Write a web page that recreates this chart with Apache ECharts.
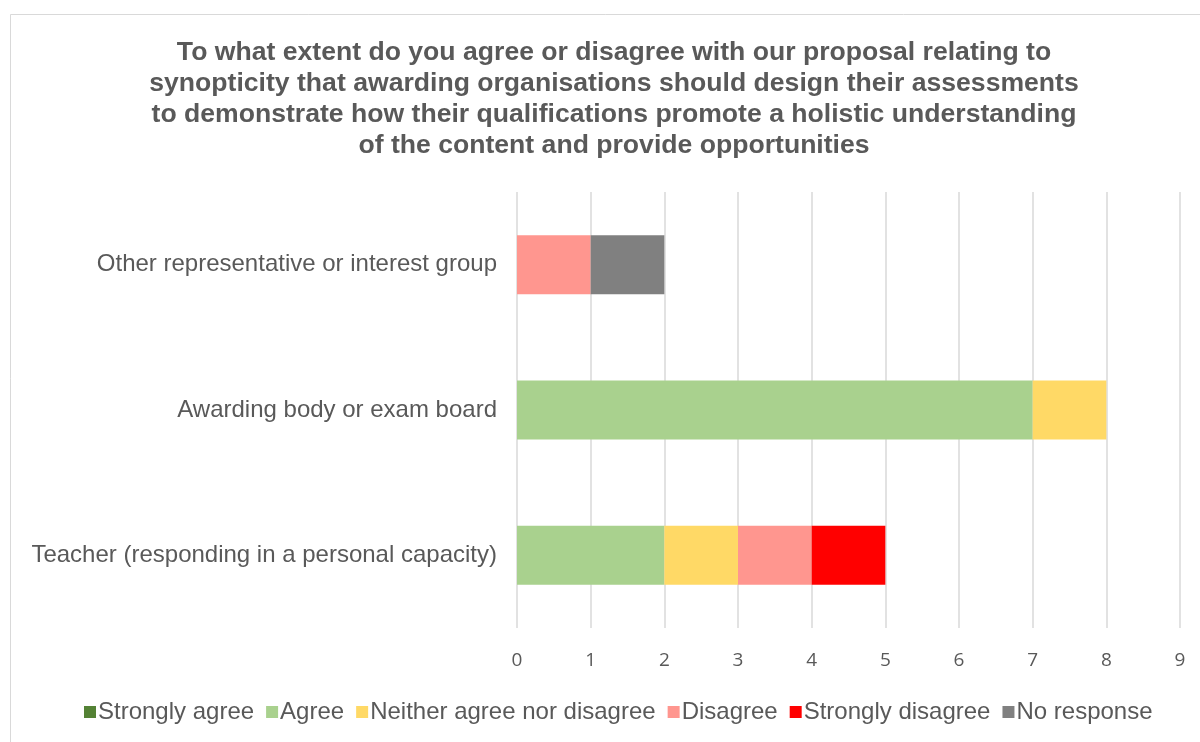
<!DOCTYPE html>
<html>
<head>
<meta charset="utf-8">
<script src="https://cdn.jsdelivr.net/npm/echarts@6/dist/echarts.min.js"></script>
<style>
  html, body { margin: 0; padding: 0; background: #fff; }
  #chart { width: 1200px; height: 742px; }
</style>
</head>
<body>
<div id="chart"></div>
<script>
// Respondent groups, listed bottom to top as drawn on the category axis
const categories = [
  'Teacher (responding in a personal capacity)',
  'Awarding body or exam board',
  'Other representative or interest group'
];

// Response counts per group, one array per answer
const stronglyAgree    = [0, 0, 0];
const agree            = [2, 7, 0];
const neither          = [1, 1, 0];
const disagree         = [1, 0, 1];
const stronglyDisagree = [1, 0, 0];
const noResponse       = [0, 0, 1];

const seriesNames = ['Strongly agree', 'Agree', 'Neither agree nor disagree', 'Disagree', 'Strongly disagree', 'No response'];
const seriesData = [stronglyAgree, agree, neither, disagree, stronglyDisagree, noResponse];
const seriesColors = ['#548235', '#A9D18E', '#FFD966', '#FF968F', '#FF0000', '#808080'];

const titleText = 'To what extent do you agree or disagree with our proposal relating to\n' +
  'synopticity that awarding organisations should design their assessments\n' +
  'to demonstrate how their qualifications promote a holistic understanding\n' +
  'of the content and provide opportunities';

const chart = echarts.init(document.getElementById('chart'), null, { renderer: 'canvas' });

chart.setOption({
  animation: false,
  backgroundColor: '#ffffff',
  graphic: [{
    type: 'rect',
    shape: { x: 10.5, y: 14.5, width: 1200, height: 740 },
    style: { fill: 'none', stroke: '#d9d9d9', lineWidth: 1 }
  }],
  title: {
    text: titleText,
    left: 609,
    textAlign: 'center',
    top: 32,
    textStyle: {
      fontFamily: 'Liberation Sans',
      fontSize: 26.6,
      fontWeight: 'bold',
      color: '#595959',
      lineHeight: 31
    }
  },
  legend: {
    bottom: 13,
    left: 79,
    icon: 'rect',
    itemWidth: 12,
    itemHeight: 12,
    itemGap: 12,
    selectedMode: false,
    textStyle: {
      fontFamily: 'Liberation Sans',
      fontSize: 24,
      color: '#595959',
      padding: [0, 0, 0, -3]
    },
    data: seriesNames
  },
  grid: { left: 517, right: 20, top: 192, bottom: 114 },
  xAxis: {
    type: 'value',
    min: 0,
    max: 9,
    interval: 1,
    axisLine: { show: false },
    axisTick: { show: false },
    splitLine: { lineStyle: { color: '#d9d9d9', width: 1.5 } },
    axisLabel: {
      margin: 23,
      fontFamily: 'Open Sans',
      fontSize: 19,
      color: '#595959'
    }
  },
  yAxis: {
    type: 'category',
    data: categories,
    axisLine: { show: false },
    axisTick: { show: false },
    axisLabel: {
      margin: 20,
      fontFamily: 'Liberation Sans',
      fontSize: 24,
      color: '#595959'
    }
  },
  series: seriesNames.map((name, i) => ({
    name: name,
    type: 'bar',
    stack: 'total',
    barWidth: '40.6%',
    itemStyle: { color: seriesColors[i] },
    data: seriesData[i]
  }))
});
</script>
</body>
</html>
